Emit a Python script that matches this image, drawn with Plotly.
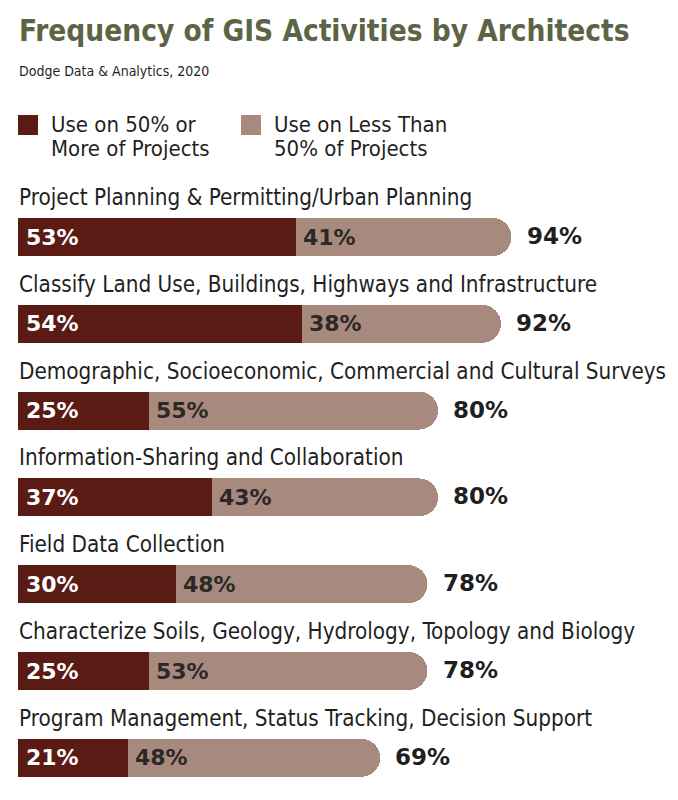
import plotly.graph_objects as go

categories = [
    "Project Planning & Permitting/Urban Planning",
    "Classify Land Use, Buildings, Highways and Infrastructure",
    "Demographic, Socioeconomic, Commercial and Cultural Surveys",
    "Information-Sharing and Collaboration",
    "Field Data Collection",
    "Characterize Soils, Geology, Hydrology, Topology and Biology",
    "Program Management, Status Tracking, Decision Support",
]
use_50_or_more = [53, 54, 25, 37, 30, 25, 21]
use_less_than_50 = [41, 38, 55, 43, 48, 53, 48]
totals = [94, 92, 80, 80, 78, 78, 69]
series_names = ["Use on 50% or<br>More of Projects", "Use on Less Than<br>50% of Projects"]

W, H = 678, 800
DARK = "#5a1b15"
LIGHT = "#a8897e"
TITLE_C = "#5b6444"
TXT = "#1f1f1f"
COND = "'DejaVu Sans Condensed', 'Liberation Sans Narrow', sans-serif"
BOLD = "'DejaVu Sans', Verdana, sans-serif"

# pixel layout -> axis ranges
x0_px, px_per_pct = 18, 5.25
first_c, spacing = 237, 86.8
xr = [-x0_px / px_per_pct, (W - x0_px) / px_per_pct]
top = -first_c / spacing
bot = top + H / spacing
bar_w = 38 / spacing

fig = go.Figure()
fig.add_trace(go.Bar(y=categories, x=use_50_or_more, orientation="h", name=series_names[0],
                     marker=dict(color=DARK, line=dict(width=0)), width=bar_w, showlegend=False,
                     hoverinfo="skip"))
fig.add_trace(go.Bar(y=categories, x=use_less_than_50, orientation="h", name=series_names[1],
                     marker=dict(color=LIGHT, line=dict(width=0)), width=bar_w, showlegend=False,
                     hoverinfo="skip"))

ann = []
for i, c in enumerate(categories):
    ann.append(dict(x=0, y=c, xref="x", yref="y", text=c, showarrow=False, xanchor="left",
                    yanchor="middle", yshift=40, xshift=-1,
                    font=dict(family=COND, size=22.3, color=TXT)))
    ann.append(dict(x=0, y=c, xref="x", yref="y", text=f"{use_50_or_more[i]}%", showarrow=False,
                    xanchor="left", yanchor="middle", xshift=6,
                    font=dict(family=BOLD, size=22, color="white", weight="bold")))
    ann.append(dict(x=use_50_or_more[i], y=c, xref="x", yref="y", text=f"{use_less_than_50[i]}%",
                    showarrow=False, xanchor="left", yanchor="middle", xshift=5,
                    font=dict(family=BOLD, size=22, color="#2b2826", weight="bold")))
    ann.append(dict(x=totals[i], y=c, xref="x", yref="y", text=f"{totals[i]}%", showarrow=False,
                    xanchor="left", yanchor="middle", xshift=13, yshift=1,
                    font=dict(family=BOLD, size=23, color=TXT, weight="bold")))

def px(x):
    return x / W

def py(y):
    return 1 - y / H

ann.append(dict(x=px(17), y=py(31), xref="paper", yref="paper", text="<b>Frequency of GIS Activities by Architects</b>",
                showarrow=False, xanchor="left", yanchor="middle",
                font=dict(family=COND, size=29.5, color=TITLE_C)))
ann.append(dict(x=px(17), y=py(71), xref="paper", yref="paper", text="Dodge Data & Analytics, 2020",
                showarrow=False, xanchor="left", yanchor="middle",
                font=dict(family=COND, size=14, color=TXT)))
legend_x = [18, 241]
legend_colors = [DARK, LIGHT]
shapes = []
for lx, col, nm in zip(legend_x, legend_colors, series_names):
    shapes.append(dict(type="rect", xref="paper", yref="paper", x0=px(lx), x1=px(lx + 20),
                       y0=py(135), y1=py(115), fillcolor=col, line=dict(width=0)))
    for j, line in enumerate(nm.split("<br>")):
        ann.append(dict(x=px(lx + 31), y=py(124 + 24 * j), xref="paper", yref="paper", text=line,
                        showarrow=False, xanchor="left", yanchor="middle", align="left",
                        font=dict(family=COND, size=22, color=TXT)))

fig.update_layout(
    width=W, height=H, margin=dict(l=0, r=0, t=0, b=0),
    paper_bgcolor="white", plot_bgcolor="white",
    barmode="stack", barcornerradius="50%",
    xaxis=dict(range=xr, visible=False, fixedrange=True),
    yaxis=dict(type="category", categoryarray=categories, categoryorder="array",
               range=[bot, top], visible=False, fixedrange=True),
    annotations=ann, shapes=shapes,
)
fig.write_html("out.html", config={"displayModeBar": False},
               post_script="document.body.style.margin='0';")
